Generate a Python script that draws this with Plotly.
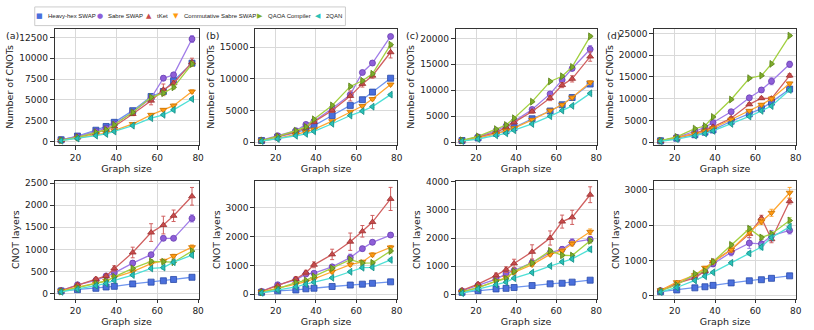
import plotly.graph_objects as go

graph_size = [13, 21, 30, 35, 39, 48, 57, 63, 68, 77]
series_names = ["Heavy-hex SWAP", "Sabre SWAP", "tKet", "Commutative Sabre SWAP", "QAOA Compiler", "2QAN"]
panel_labels = ["(a)", "(b)", "(c)", "(d)"]

# Number of CNOTs (top row), order of series_names
cnots_a = [
    [200, 650, 1350, 1800, 2300, 3700, 5400, 6000, 7300, 9400],
    [200, 600, 1200, 1600, 2100, 3500, 5200, 7600, 8000, 12300],
    [150, 500, 1000, 1400, 1800, 3300, 4900, 6200, 7000, 9500],
    [100, 400, 800, 1000, 1300, 2100, 3200, 3800, 4300, 6000],
    [150, 500, 1100, 1400, 2000, 3500, 5300, 5800, 6500, 9300],
    [100, 350, 700, 900, 1200, 1900, 2800, 3200, 3800, 5100],
]
cnots_b = [
    [250, 800, 1500, 2000, 2600, 4200, 5800, 6700, 7900, 10100],
    [300, 1000, 1800, 2800, 3300, 5300, 7500, 11000, 12500, 16700],
    [250, 900, 1600, 2300, 3200, 5000, 7300, 9200, 10500, 14200],
    [200, 600, 1200, 1600, 2000, 3300, 4800, 5700, 6800, 9100],
    [250, 900, 1800, 2400, 3600, 5800, 8800, 9700, 10800, 15400],
    [150, 500, 1000, 1300, 1700, 2900, 4200, 4900, 5600, 7500],
]
cnots_c = [
    [300, 800, 1700, 2200, 2800, 4500, 6000, 7200, 8600, 11200],
    [300, 1000, 2200, 3100, 4000, 6300, 9300, 12000, 14200, 17900],
    [300, 900, 1900, 2800, 3800, 5900, 8500, 11000, 12200, 16500],
    [250, 800, 1600, 2200, 2700, 4300, 6100, 7200, 8600, 11500],
    [350, 1100, 2500, 3300, 4600, 7800, 11700, 12700, 14500, 20400],
    [200, 600, 1300, 1700, 2300, 3500, 5000, 6100, 7000, 9400],
]
cnots_d = [
    [300, 900, 1700, 2300, 2800, 4800, 6500, 7700, 9200, 12200],
    [300, 1100, 2500, 3400, 4500, 7000, 10200, 12000, 14000, 17900],
    [300, 1000, 2000, 2800, 3500, 5500, 8700, 10100, 10000, 15300],
    [300, 1000, 1900, 2500, 3200, 5200, 7200, 8600, 10000, 13500],
    [350, 1200, 3100, 3700, 5800, 9800, 14700, 15300, 18000, 24500],
    [200, 700, 1500, 2000, 2600, 4200, 5900, 7200, 8300, 12000],
]
# CNOT layers (bottom row)
layers_a = [
    [60, 90, 120, 150, 165, 220, 260, 290, 320, 370],
    [70, 200, 300, 400, 470, 690, 880, 1250, 1250, 1700],
    [70, 200, 330, 400, 570, 930, 1380, 1550, 1760, 2200],
    [60, 140, 230, 290, 370, 500, 680, 740, 850, 1050],
    [50, 130, 230, 280, 380, 570, 730, 720, 710, 960],
    [40, 100, 180, 230, 300, 420, 570, 590, 710, 870],
]
layers_b = [
    [70, 120, 150, 190, 210, 270, 320, 350, 380, 430],
    [100, 330, 500, 700, 730, 950, 1270, 1580, 1800, 2050],
    [100, 300, 530, 750, 1020, 1380, 1820, 2180, 2500, 3300],
    [80, 200, 350, 440, 530, 780, 1030, 1120, 1370, 1620],
    [70, 200, 400, 480, 620, 900, 1200, 1080, 1090, 1500],
    [50, 150, 260, 350, 420, 570, 780, 920, 930, 1190],
]
layers_c = [
    [80, 140, 200, 220, 250, 320, 380, 400, 440, 510],
    [130, 330, 550, 730, 850, 1130, 1480, 1600, 1850, 1950],
    [150, 370, 680, 880, 1100, 1510, 2000, 2580, 2730, 3530],
    [90, 250, 470, 600, 780, 1060, 1420, 1550, 1800, 2220],
    [100, 250, 480, 560, 820, 1120, 1550, 1390, 1380, 1900],
    [50, 200, 350, 440, 580, 780, 1010, 1160, 1260, 1600],
]
layers_d = [
    [110, 160, 220, 250, 290, 360, 420, 450, 490, 560],
    [140, 330, 550, 680, 900, 1230, 1490, 1470, 1700, 1850],
    [150, 350, 500, 700, 970, 1300, 1750, 2200, 1600, 2680],
    [150, 380, 580, 790, 950, 1300, 1800, 2100, 2350, 2920],
    [130, 300, 620, 700, 960, 1440, 1900, 1650, 1750, 2130],
    [100, 230, 430, 550, 660, 930, 1200, 1380, 1650, 1950],
]

# error bars (estimated), per panel, order of series_names
err_cnots_a = [
    [30, 60, 100, 100, 120, 150, 200, 200, 300, 300],
    [30, 60, 80, 100, 120, 150, 250, 300, 200, 400],
    [30, 60, 80, 100, 150, 200, 500, 700, 300, 500],
    [20, 40, 60, 80, 80, 100, 150, 150, 200, 200],
    [20, 40, 60, 80, 100, 150, 200, 200, 200, 250],
    [20, 40, 60, 60, 80, 100, 120, 150, 150, 150],
]
err_cnots_b = [
    [30, 60, 80, 100, 120, 150, 200, 200, 250, 300],
    [30, 60, 100, 150, 150, 200, 300, 300, 400, 300],
    [30, 60, 100, 150, 200, 300, 800, 500, 400, 900],
    [20, 40, 60, 80, 100, 150, 150, 150, 200, 200],
    [20, 40, 60, 80, 100, 150, 200, 200, 200, 250],
    [20, 40, 60, 60, 80, 100, 150, 150, 150, 200],
]
err_cnots_c = [
    [30, 60, 80, 100, 120, 150, 200, 200, 250, 300],
    [30, 60, 100, 150, 150, 250, 300, 500, 400, 700],
    [30, 60, 100, 150, 200, 300, 500, 500, 600, 900],
    [20, 40, 60, 80, 100, 150, 150, 200, 200, 300],
    [20, 40, 60, 80, 100, 150, 200, 200, 200, 250],
    [20, 40, 60, 60, 80, 100, 150, 150, 150, 200],
]
err_cnots_d = [
    [30, 60, 80, 100, 120, 200, 200, 300, 300, 400],
    [30, 60, 100, 150, 200, 250, 500, 500, 800, 700],
    [30, 60, 100, 150, 200, 300, 300, 300, 500, 400],
    [20, 40, 60, 80, 100, 150, 200, 300, 300, 300],
    [20, 40, 60, 80, 100, 150, 200, 200, 200, 250],
    [20, 40, 60, 60, 80, 100, 150, 150, 150, 200],
]
err_layers_a = [
    [5, 8, 10, 10, 12, 15, 15, 20, 20, 25],
    [10, 20, 30, 40, 40, 60, 40, 50, 40, 80],
    [10, 30, 40, 40, 60, 120, 200, 200, 130, 200],
    [8, 15, 20, 25, 25, 30, 40, 40, 40, 50],
    [8, 15, 20, 25, 25, 30, 40, 40, 40, 50],
    [5, 10, 15, 20, 20, 30, 30, 40, 30, 40],
]
err_layers_b = [
    [5, 8, 10, 10, 12, 15, 20, 20, 20, 25],
    [10, 30, 40, 50, 50, 60, 120, 80, 80, 70],
    [10, 40, 80, 80, 100, 180, 300, 200, 230, 400],
    [8, 20, 30, 30, 40, 50, 60, 60, 70, 70],
    [8, 20, 30, 30, 40, 50, 60, 60, 60, 70],
    [5, 15, 20, 25, 30, 40, 50, 50, 50, 60],
]
err_layers_c = [
    [5, 8, 10, 10, 12, 15, 20, 20, 20, 25],
    [10, 30, 40, 50, 60, 80, 100, 100, 120, 100],
    [15, 40, 80, 100, 150, 250, 250, 230, 250, 280],
    [8, 20, 30, 40, 40, 50, 60, 60, 80, 100],
    [8, 20, 30, 40, 40, 50, 60, 60, 60, 80],
    [5, 15, 20, 30, 30, 40, 50, 50, 60, 80],
]
err_layers_d = [
    [5, 8, 10, 10, 12, 15, 20, 20, 20, 25],
    [10, 30, 40, 50, 80, 100, 150, 120, 150, 100],
    [10, 30, 40, 50, 60, 80, 100, 80, 100, 80],
    [10, 30, 40, 40, 50, 60, 80, 80, 100, 150],
    [8, 20, 30, 30, 40, 50, 60, 60, 60, 80],
    [5, 15, 20, 30, 30, 40, 50, 80, 60, 80],
]

line_colors = ["#6f95ee", "#a07ce8", "#d06060", "#ffa733", "#a2d040", "#4fe0d6"]
marker_colors = ["#4a6fdc", "#8e5fd8", "#c84c4c", "#ff9a10", "#7fae2c", "#29c2b8"]
edge_colors = ["#2a4aa8", "#6a3fb0", "#9a3030", "#c87000", "#5a8018", "#158a84"]
symbols = ["square", "circle", "triangle-up", "triangle-down", "triangle-right", "triangle-left"]
legend_glyphs = ["\u25A0", "\u25CF", "\u25B2", "\u25BC", "\u25B6", "\u25C0"]

top_data = [cnots_a, cnots_b, cnots_c, cnots_d]
bot_data = [layers_a, layers_b, layers_c, layers_d]
top_err = [err_cnots_a, err_cnots_b, err_cnots_c, err_cnots_d]
bot_err = [err_layers_a, err_layers_b, err_layers_c, err_layers_d]

top_ranges = [[-470, 13560], [-520, 17950], [-630, 21900], [-750, 26130]]
bot_ranges = [[-111, 2552], [-147, 3930], [-140, 4025], [-84, 3260]]
top_dtick = [2500, 5000, 5000, 5000]
bot_dtick = [500, 1000, 1000, 1000]

W, H = 814, 330
x_doms = [(55, 200), (257, 400), (459, 601), (659, 802)]
top_y = (25, 144)
bot_y = (180, 300)

fig = go.Figure()
font = dict(family="DejaVu Sans", size=9, color="#222")
title_font = dict(family="DejaVu Sans", size=9.5, color="#222")

def add_panel(idx, data, errs, yrange, dtick, ytitle, ypix):
    n = idx + 1
    xa = "x" if n == 1 else f"x{n}"
    ya = "y" if n == 1 else f"y{n}"
    for s in range(6):
        fig.add_trace(go.Scatter(
            x=graph_size, y=data[s], name=series_names[s], mode="lines+markers",
            xaxis=xa, yaxis=ya, showlegend=False,
            line=dict(color=line_colors[s], width=1.3),
            marker=dict(symbol=symbols[s], size=6, color=marker_colors[s],
                        line=dict(color=edge_colors[s], width=0.8)),
            error_y=dict(type="data", array=errs[s], color=line_colors[s],
                         thickness=1, width=2),
        ))
    x0, x1 = x_doms[idx % 4]
    axkey_x = "xaxis" if n == 1 else f"xaxis{n}"
    axkey_y = "yaxis" if n == 1 else f"yaxis{n}"
    common = dict(showline=True, linecolor="#333", linewidth=0.8, mirror=True,
                  ticks="outside", ticklen=4, tickcolor="#333",
                  showgrid=True, gridcolor="#d9d9d9", gridwidth=0.8,
                  zeroline=False, tickfont=font)
    fig.update_layout({
        axkey_x: dict(domain=[x0 / W, x1 / W], range=[9.8, 80.2], tickvals=[20, 40, 60, 80],
                      anchor=ya, title=dict(text="Graph size", font=title_font, standoff=1), **common),
        axkey_y: dict(domain=[1 - ypix[1] / H, 1 - ypix[0] / H], range=yrange, dtick=dtick,
                      tick0=0, tickformat="d", anchor=xa,
                      title=dict(text=ytitle, font=title_font, standoff=3), **common),
    })

for i in range(4):
    add_panel(i, top_data[i], top_err[i], top_ranges[i], top_dtick[i], "Number of CNOTs", top_y)
for i in range(4):
    add_panel(i + 4, bot_data[i], bot_err[i], bot_ranges[i], bot_dtick[i], "CNOT layers", bot_y)

label_x = [4, 206, 407, 609]
for i, lab in enumerate(panel_labels):
    fig.add_annotation(text=lab, x=label_x[i] / W, y=1 - 32 / H, xref="paper", yref="paper",
                       xanchor="left", yanchor="middle", showarrow=False,
                       font=dict(family="DejaVu Sans", size=9.5, color="#222"))

# compact legend box (drawn as text entries in a bordered box)
legend_box = (35, 3, 348, 22)
legend_sym_x = [40, 101, 150, 177, 262, 320]
legend_txt_x = [46, 107, 156, 183, 268, 326]
legend_y = 12.5
fig.add_shape(type="rect", xref="paper", yref="paper",
              x0=legend_box[0] / W, x1=legend_box[2] / W,
              y0=1 - legend_box[3] / H, y1=1 - legend_box[1] / H,
              line=dict(color="#cccccc", width=1), fillcolor="white")
for s in range(6):
    fig.add_annotation(text=legend_glyphs[s], x=legend_sym_x[s] / W, y=1 - legend_y / H,
                       xref="paper", yref="paper", xanchor="center", yanchor="middle",
                       showarrow=False, font=dict(family="DejaVu Sans", size=7, color=marker_colors[s]))
    fig.add_annotation(text=series_names[s], x=legend_txt_x[s] / W, y=1 - legend_y / H,
                       xref="paper", yref="paper", xanchor="left", yanchor="middle",
                       showarrow=False, font=dict(family="Liberation Sans", size=6, color="#222"))

fig.update_layout(
    width=W, height=H, margin=dict(l=0, r=0, t=0, b=0),
    paper_bgcolor="white", plot_bgcolor="white", font=font, showlegend=False,
)

fig.write_html("out.html", config={"displayModeBar": False},
               post_script="document.body.style.margin='0';document.body.style.overflow='hidden';")
